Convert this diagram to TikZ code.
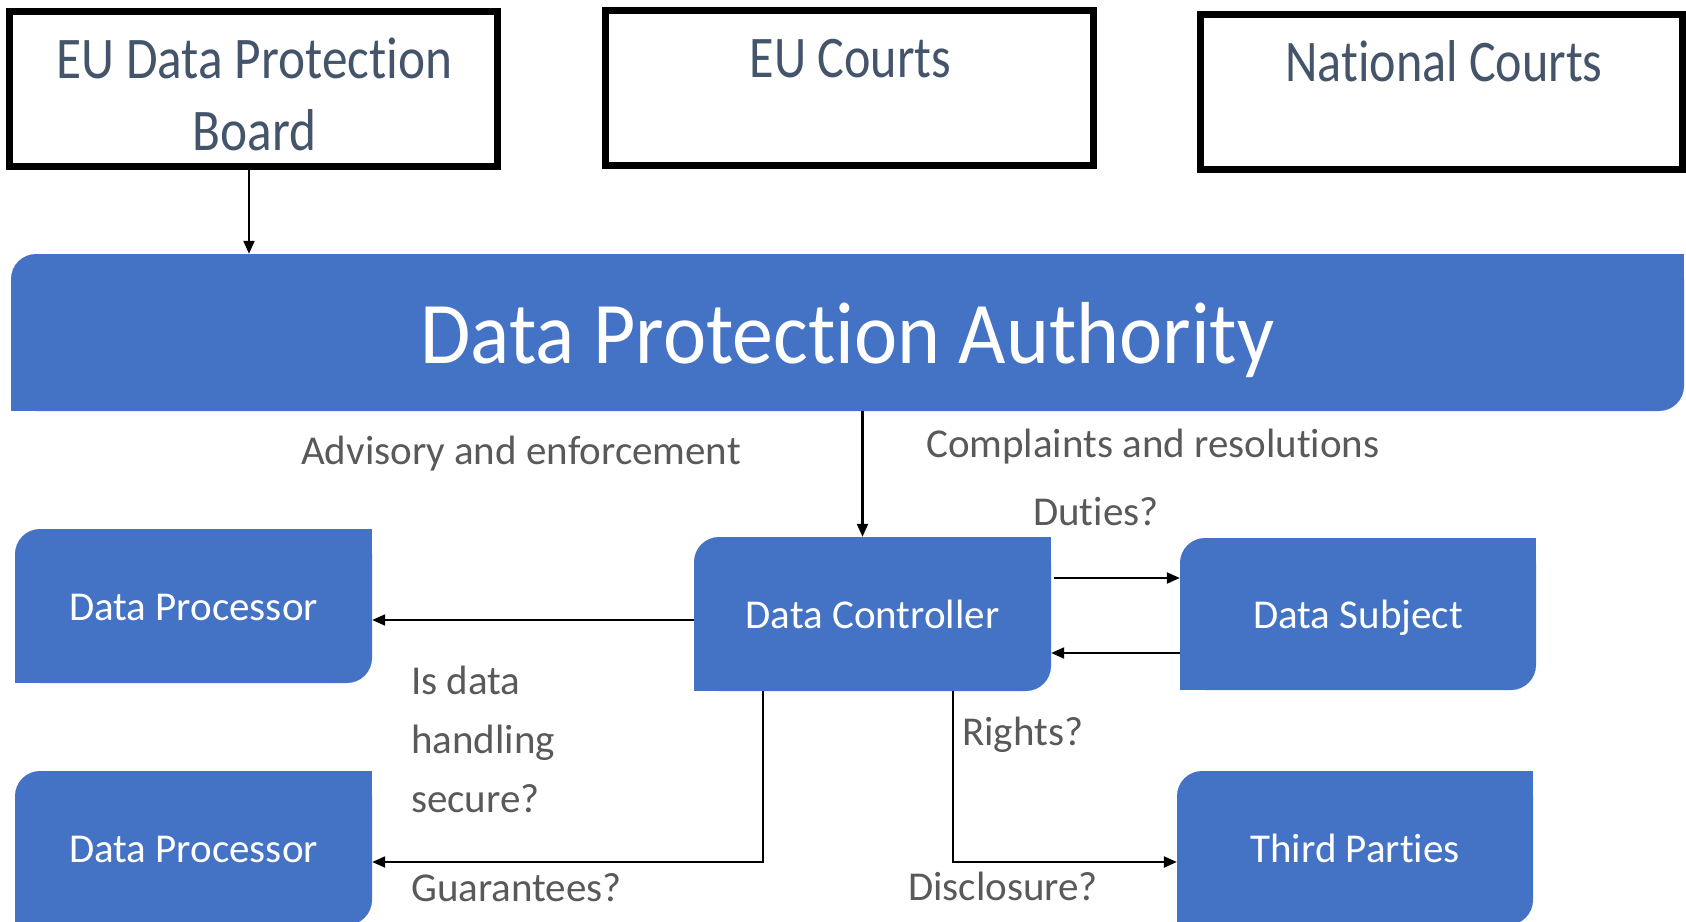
\documentclass[tikz,border=0pt]{standalone}
\usepackage{fontspec}
\setmainfont{Carlito}[Ligatures=NoCommon]
\usetikzlibrary{arrows.meta}
\definecolor{dpblue}{HTML}{4472C4}
\definecolor{slatetext}{HTML}{44546A}
\definecolor{labelgrey}{HTML}{595959}
\tikzset{
  % black-framed boxes of the top row
  topbox/.style={draw=black, line width=7pt, fill=white, inner sep=0pt,
    minimum width=488pt, minimum height=155pt},
  toptext/.style={text=slatetext, inner sep=0pt, anchor=base,
    font=\fontsize{59}{70}\selectfont},
  % blue boxes with two rounded diagonal corners
  bluebox/.style={inner sep=0pt, text=white,
    minimum width=357pt, minimum height=154pt,
    text height=29pt, text depth=0pt,
    font=\fontsize{41}{49}\selectfont,
    path picture={
      \fill[dpblue, rounded corners=25pt] (path picture bounding box.north west)
        rectangle (path picture bounding box.south east);
      \fill[dpblue] (path picture bounding box.north east)
        rectangle ([xshift=-27pt,yshift=-27pt]path picture bounding box.north east);
      \fill[dpblue] (path picture bounding box.south west)
        rectangle ([xshift=27pt,yshift=27pt]path picture bounding box.south west);
    }},
  lbl/.style={text=labelgrey, inner sep=0pt, anchor=base west,
    font=\fontsize{41}{59}\selectfont},
  arr/.style={line width=2.2pt, -{Triangle[length=13pt,width=11pt]}}
}
\begin{document}
\begin{tikzpicture}[x=1pt,y=-1pt]
\useasboundingbox (0,0) rectangle (1686,921);

% top row
\node[topbox] (eudpb) at (253.5,88.5) {};
\node[toptext, xscale=0.87] (eudpbA) at (254.5,78) {EU Data Protection};
\node[toptext, xscale=0.87] (eudpbB) at (254.5,150) {Board};
\node[topbox] (eucourts) at (849.5,88) {};
\node[toptext, xscale=0.85] (eucourtsT) at (850.5,77) {EU Courts};
\node[topbox, minimum width=482pt] (natcourts) at (1441.5,92) {};
\node[toptext, xscale=0.85] (natcourtsT) at (1444,81) {National Courts};

% authority
\node[bluebox, minimum width=1673pt, minimum height=157pt,
      text height=61pt, font=\fontsize{88}{100}\selectfont]
      (dpa) at (847.5,332.5) {\scalebox{0.93}[1]{Data Protection Authority}};

% actors
\node[bluebox] (dc)  at (872.5,614) {Data Controller};
\node[bluebox] (dp1) at (193.5,606) {Data Processor};
\node[bluebox, minimum width=356pt, minimum height=152pt] (ds) at (1358,614) {Data Subject};
\node[bluebox] (dp2) at (193.5,848) {Data Processor};
\node[bluebox, minimum width=356pt] (tp) at (1355,848) {Third Parties};

% connectors
\draw[arr] ([xshift=-4.5pt]eudpb.south) -- ([xshift=-4.5pt]eudpb.south |- dpa.north);
\draw[arr] ([xshift=-10pt]dc.north |- dpa.south) -- ([xshift=-10pt]dc.north);
\draw[arr] ([yshift=-6pt]dc.west) -- ([yshift=-6pt]dc.west -| dp1.east);
\draw[arr] ([xshift=3pt,yshift=36pt]dc.east) -- ([yshift=36pt]dc.east -| ds.west);
\draw[arr] ([yshift=-39pt]ds.west) -- ([yshift=-39pt]ds.west -| dc.east);
\draw[arr] ([xshift=-109.5pt]dc.south) |- ([yshift=-14pt]dp2.east);
\draw[arr] ([xshift=80.5pt]dc.south) |- ([yshift=-14pt]tp.west);

% labels
\node[lbl] (advisory) at (301,464) {Advisory and enforcement};
\node[lbl] (complaints) at (926,457) {Complaints and resolutions};
\node[lbl] (duties) at (1033,525) {Duties?};
\node[lbl, align=left] (secure) at (411,812) {Is data\\handling\\secure?};
\node[lbl] (guarantees) at (411,901) {Guarantees?};
\node[lbl] (rights) at (962,745) {Rights?};
\node[lbl] (disclosure) at (908,900) {Disclosure?};
\end{tikzpicture}
\end{document}
